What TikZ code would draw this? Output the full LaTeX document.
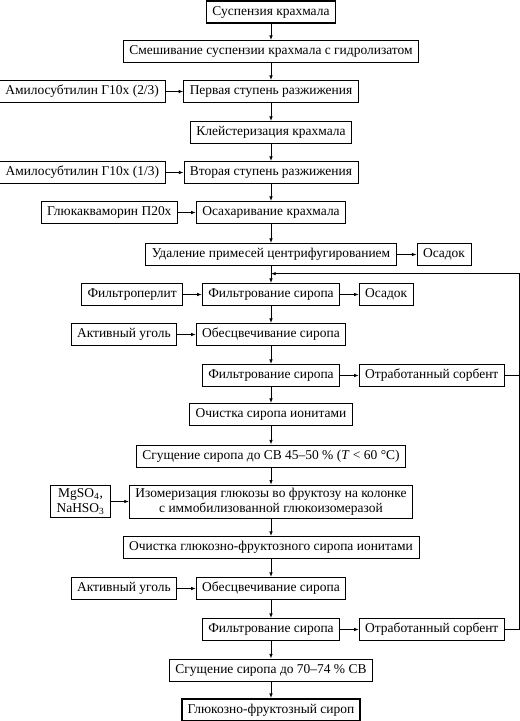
\documentclass[tikz,border=0pt]{standalone}
\usepackage{fontspec}
\setmainfont{Liberation Serif}
\usetikzlibrary{positioning, calc, arrows.meta}
\tikzset{box/.style={draw, line width=0.6pt, minimum height=16.5pt, inner xsep=4.5pt, inner ysep=2pt, align=center, font=\fontsize{10.1}{11.5}\selectfont}}
\tikzset{endbox/.style={box, line width=1.4pt}}
\tikzset{flow/.style={line width=0.6pt, -{Latex[length=3.5pt, width=2.6pt]}}}

\begin{document}
\begin{tikzpicture}[x=0.75pt, y=0.75pt]
  \useasboundingbox (0,0) rectangle (520,-721);

  % main column
  \node[endbox] (s1) at (271,-12) {Суспензия крахмала};
  \node[box] (s2) at ($(s1)-(0,39.5)$) {Смешивание суспензии крахмала с гидролизатом};
  \node[box] (s3) at ($(s2)-(0,40)$) {Первая ступень разжижения};
  \node[box] (s4) at ($(s3)-(0,41)$) {Клейстеризация крахмала};
  \node[box] (s5) at ($(s4)-(0,40)$) {Вторая ступень разжижения};
  \node[box] (s6) at ($(s5)-(0,40)$) {Осахаривание крахмала};
  \node[box] (s7) at ($(s6)-(0,42)$) {Удаление примесей центрифугированием};
  \node[box] (s8) at ($(s7)-(0,40)$) {Фильтрование сиропа};
  \node[box] (s9) at ($(s8)-(0,40)$) {Обесцвечивание сиропа};
  \node[box] (s10) at ($(s9)-(0,41)$) {Фильтрование сиропа};
  \node[box] (s11) at ($(s10)-(0,39)$) {Очистка сиропа ионитами};
  \node[box] (s12) at ($(s11)-(0,41.5)$) {Сгущение сиропа до СВ 45–50 \% (\textit{T} < 60 °C)};
  \node[box] (s13) at ($(s12)-(0,45.5)$) {Изомеризация глюкозы во фруктозу на колонке\\с иммобилизованной глюкоизомеразой};
  \node[box] (s14) at ($(s13)-(0,46)$) {Очистка глюкозно-фруктозного сиропа ионитами};
  \node[box] (s15) at ($(s14)-(0,41)$) {Обесцвечивание сиропа};
  \node[box] (s16) at ($(s15)-(0,41)$) {Фильтрование сиропа};
  \node[box] (s17) at ($(s16)-(0,40.5)$) {Сгущение сиропа до 70–74 \% СВ};
  \node[endbox] (s18) at ($(s17)-(0,40)$) {Глюкозно-фруктозный сироп};

  \foreach \i [count=\j from 2] in {1,...,17}
    \draw[flow] (s\i) -- (s\j);

  % inputs
  \node[box, left=13.5pt of s3] (in3) {Амилосубтилин Г10х (2/3)};
  \node[box, left=13.5pt of s5] (in5) {Амилосубтилин Г10х (1/3)};
  \node[box, left=13.5pt of s6] (in6) {Глюкакваморин П20х};
  \node[box, left=14pt of s8] (in8) {Фильтроперлит};
  \node[box, left=14pt of s9] (in9) {Активный уголь};
  \node[box, left=13.5pt of s13, minimum height=24pt] (in13) {MgSO\textsubscript{4},\\NaHSO\textsubscript{3}};
  \node[box, left=14pt of s15] (in15) {Активный уголь};
  \foreach \k in {3,5,6,8,9,13,15}
    \draw[flow] (in\k) -- (s\k);

  % outputs
  \node[box, right=15pt of s7] (out7) {Осадок};
  \node[box, right=14pt of s8] (out8) {Осадок};
  \node[box, right=14pt of s10] (out10) {Отработанный сорбент};
  \node[box, right=14pt of s16] (out16) {Отработанный сорбент};
  \foreach \k in {7,8,10,16}
    \draw[flow] (s\k) -- (out\k);

  % sorbent return
  \coordinate (ret) at ($(s7.south)!0.45!(s8.north)$);
  \coordinate (rc) at ($(ret)+(248,0)$);
  \draw[line width=0.6pt] (out10.east) -- (out10.east -| rc);
  \draw[flow] (out16.east) -| (rc) -- (ret);
\end{tikzpicture}
\end{document}
